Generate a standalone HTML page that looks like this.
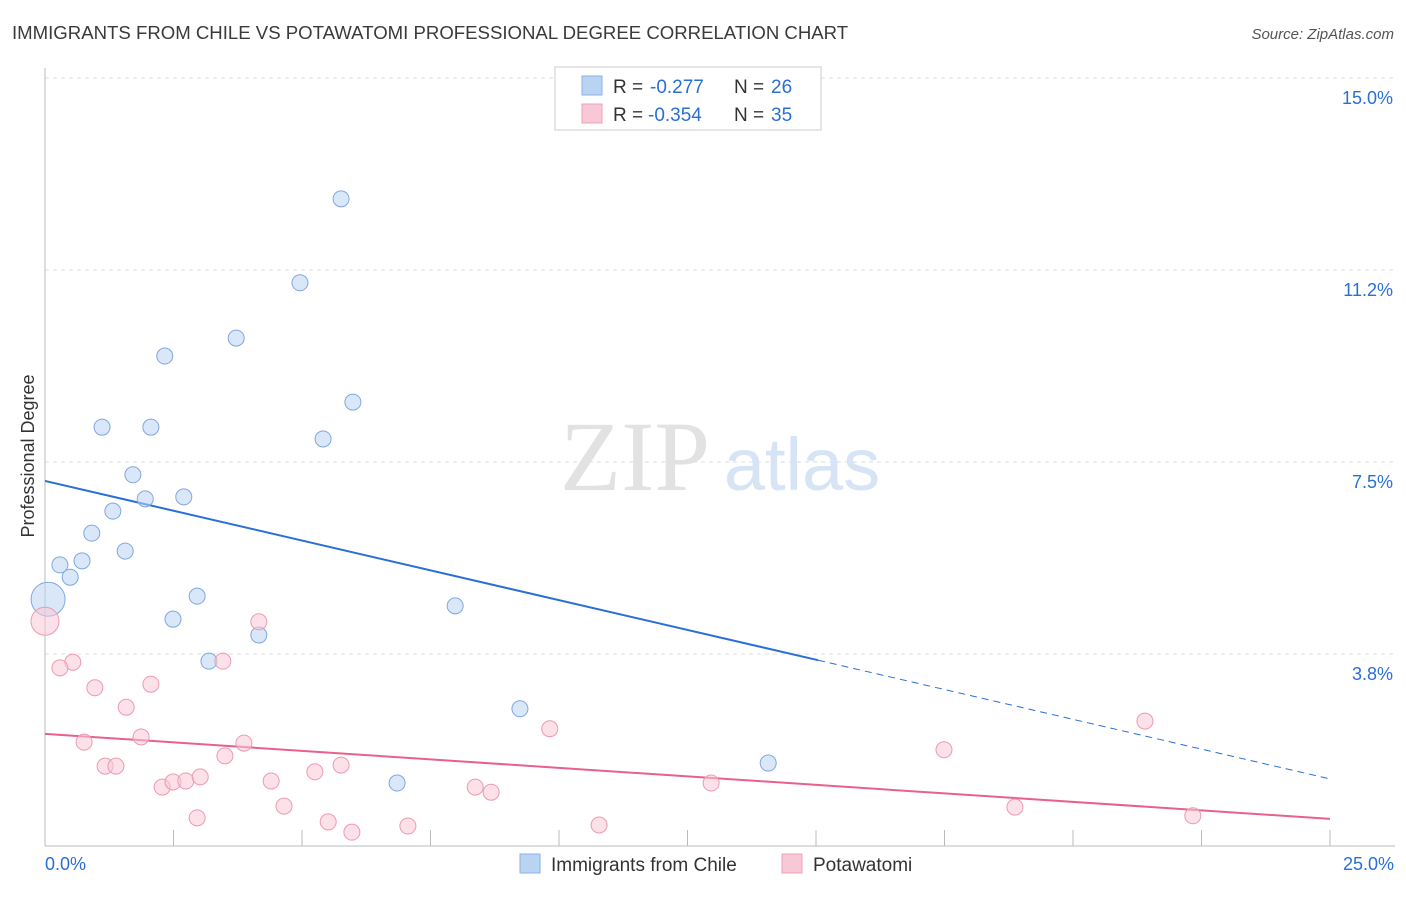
<!DOCTYPE html>
<html><head><meta charset="utf-8"><style>
body{margin:0;background:#fff;font-family:"Liberation Sans",sans-serif;}
</style></head><body>
<svg id="chart" width="1406" height="892" viewBox="0 0 1406 892" style="font-family:'Liberation Sans',sans-serif">
<text x="12" y="39" font-size="18.6" fill="#3a3a3a">IMMIGRANTS FROM CHILE VS POTAWATOMI PROFESSIONAL DEGREE CORRELATION CHART</text>
<text x="1394" y="39" font-size="15" fill="#555" text-anchor="end" font-style="italic">Source: ZipAtlas.com</text>
<text x="34" y="456" font-size="18" fill="#333" text-anchor="middle" transform="rotate(-90 34 456)">Professional Degree</text>
<g id="grid"></g>
<g><text x="635" y="490" font-size="100" fill="#e2e2e2" text-anchor="middle" style="font-family:'Liberation Serif',serif">ZIP</text><text x="802" y="490" font-size="74" fill="#d6e4f5" text-anchor="middle">atlas</text></g>
<g id="trend"></g>
<g id="points"></g>
<g>
<rect x="555" y="67" width="266" height="63" fill="#fff" stroke="#ccc"/>
<rect x="582" y="76" width="20" height="19" fill="#b9d3f3" stroke="#8ab0e6"/>
<rect x="582" y="104" width="20" height="19" fill="#f9c8d6" stroke="#efa1b8"/>
<text x="613" y="93" font-size="19" fill="#333">R = <tspan x="650" fill="#2a6fd6">-0.277</tspan></text>
<text x="734" y="93" font-size="19" fill="#333">N = <tspan x="771" fill="#2a6fd6">26</tspan></text>
<text x="613" y="121" font-size="19" fill="#333">R = <tspan x="648" fill="#2a6fd6">-0.354</tspan></text>
<text x="734" y="121" font-size="19" fill="#333">N = <tspan x="771" fill="#2a6fd6">35</tspan></text>
</g>
<g>
<rect x="520" y="854" width="20" height="19" fill="#b9d3f3" stroke="#8ab0e6"/>
<text x="551" y="871" font-size="19" fill="#333">Immigrants from Chile</text>
<rect x="782" y="854" width="20" height="19" fill="#f9c8d6" stroke="#efa1b8"/>
<text x="813" y="871" font-size="19" fill="#333">Potawatomi</text>
</g>
</svg>
<script>
const yTicks=[15,11.25,7.5,3.75];
const yTickLabels=["15.0%","11.2%","7.5%","3.8%"];
const xEndLabels=["0.0%","25.0%"];
const chileX=[5.76,4.96,3.72,2.33,5.99,1.11,2.06,5.41,1.71,1.95,2.70,1.32,0.91,1.56,0.29,0.72,0.49,0.06,2.96,2.49,7.98,4.16,3.19,9.24,6.85,14.07];
const chileY=[12.64,11.0,9.92,9.57,8.67,8.18,8.18,7.95,7.25,6.78,6.82,6.54,6.11,5.76,5.49,5.57,5.25,4.82,4.88,4.43,4.69,4.12,3.61,2.68,1.23,1.62];
const potX=[0,4.16,0.54,0.29,3.46,0.97,2.06,1.58,0.76,1.87,3.87,3.50,1.17,1.38,2.28,2.49,2.74,3.02,4.40,5.25,5.76,4.65,2.96,5.51,5.97,7.06,8.37,8.68,9.82,10.78,12.96,17.49,21.40,18.87,22.33];
const potY=[4.39,4.38,3.59,3.48,3.61,3.09,3.16,2.71,2.03,2.13,2.01,1.76,1.56,1.56,1.15,1.25,1.27,1.35,1.27,1.45,1.58,0.78,0.55,0.47,0.27,0.39,1.15,1.05,2.29,0.41,1.23,1.88,2.44,0.76,0.59];
const chileTrend=[7.13,1.31];
const potTrend=[2.19,0.53];
const chileSolidEnd=15.04;
const NS="http://www.w3.org/2000/svg";
const X=v=>45+v*51.4, Y=v=>846-v*51.2;
function mk(tag,attrs,parent){const e=document.createElementNS(NS,tag);for(const k in attrs)e.setAttribute(k,attrs[k]);parent.appendChild(e);return e;}
const grid=document.getElementById('grid');
yTicks.forEach((t,i)=>{
 const l=mk('line',{x1:45,x2:1395,y1:Y(t),y2:Y(t),stroke:'#ddd','stroke-dasharray':'4,4'},grid);
 
 
 const tx=mk('text',{x:1393,y:Y(t)+26,'font-size':18,fill:'#2a6fd6','text-anchor':'end'},grid);
 tx.textContent=yTickLabels[i];
 
 
});
const ax=mk('line',{x1:45,x2:45,y1:68,y2:846,stroke:'#bbb'},grid);


const bx=mk('line',{x1:45,x2:1395,y1:846,y2:846,stroke:'#bbb'},grid);


for(let i=0;i<=10;i++){
 const t=mk('line',{x1:X(i*2.5),x2:X(i*2.5),y1:830,y2:846,stroke:'#bbb'},grid);
 
 
}
[[0,'start',45],[25,'end',1394]].forEach((d,i)=>{
 const tx=mk('text',{x:d[2],y:870,'font-size':18,fill:'#2a6fd6','text-anchor':d[1]},grid);
 tx.textContent=xEndLabels[i];
 
 
});
const pts=document.getElementById('points');
chileX.forEach((x,i)=>{
 const c=mk('circle',{cx:X(x),cy:Y(chileY[i]),r:i===17?17:8,fill:'#b9d3f3','fill-opacity':0.55,stroke:'#7fa8e0','stroke-width':1},pts);
 
 
});
potX.forEach((x,i)=>{
 const c=mk('circle',{cx:X(x),cy:Y(potY[i]),r:i===0?14:8,fill:'#f9c8d6','fill-opacity':0.55,stroke:'#ec9ab3','stroke-width':1},pts);
 
 
});
const tr=document.getElementById('trend');
const cy=v=>chileTrend[0]+(chileTrend[1]-chileTrend[0])*v/25;
const l1=mk('line',{x1:X(0),y1:Y(chileTrend[0]),x2:X(chileSolidEnd),y2:Y(cy(chileSolidEnd)),stroke:'#2a6fd6','stroke-width':2},tr);


const l2=mk('line',{x1:X(chileSolidEnd),y1:Y(cy(chileSolidEnd)),x2:X(25),y2:Y(chileTrend[1]),stroke:'#2a6fd6','stroke-width':1,'stroke-dasharray':'7,5'},tr);


const l3=mk('line',{x1:X(0),y1:Y(potTrend[0]),x2:X(25),y2:Y(potTrend[1]),stroke:'#e8608c','stroke-width':2},tr);


</script>
</body></html>
